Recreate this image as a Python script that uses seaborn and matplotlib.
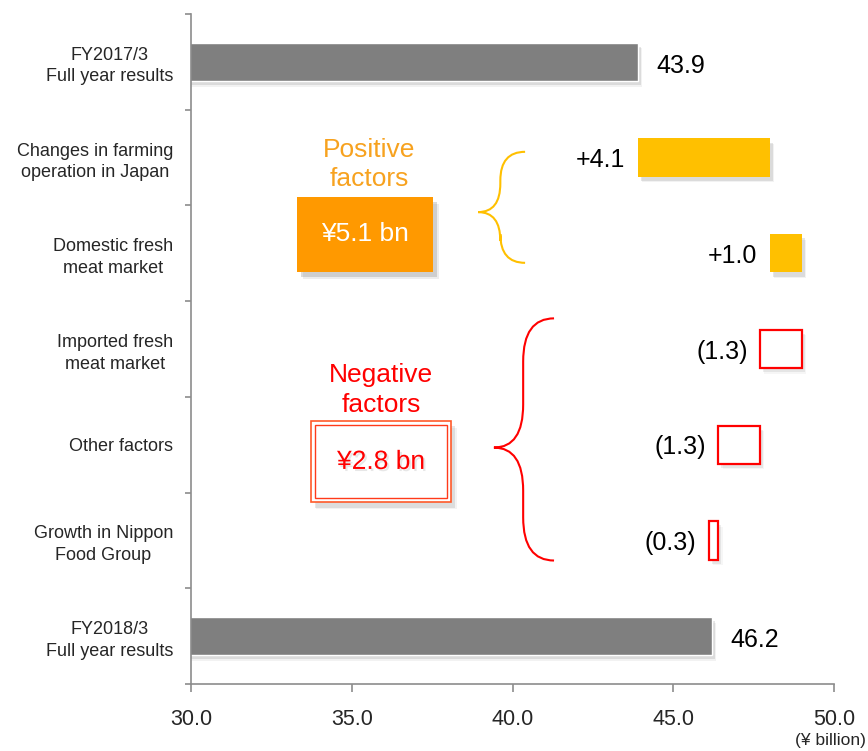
import matplotlib
matplotlib.use("Agg")
import matplotlib.pyplot as plt
import matplotlib.patheffects as pe
from matplotlib.patches import Rectangle, PathPatch
from matplotlib.path import Path
import numpy as np
import pandas as pd
import seaborn as sns

# ---- data -------------------------------------------------------------
categories = [
    "FY2017/3\nFull year results",
    "Changes in farming\noperation in Japan",
    "Domestic fresh\nmeat market",
    "Imported fresh\nmeat market",
    "Other factors",
    "Growth in Nippon\nFood Group",
    "FY2018/3\nFull year results",
]
start_total = 43.9
end_total = 46.2
deltas = [4.1, 1.0, -1.3, -1.3, -0.3]
x_ticks = [30.0, 35.0, 40.0, 45.0, 50.0]
positive_total = "¥5.1 bn"
negative_total = "¥2.8 bn"

# ---- style ------------------------------------------------------------
sns.set_style("white")
plt.rcParams["font.family"] = ["Liberation Sans", "DejaVu Sans"]

GREY = "#7F7F7F"
YELLOW = "#FFC000"
ORANGE = "#FF9900"
ORANGE_TXT = "#F7A21F"
RED = "#FF0000"
AXIS = "#8C8C8C"

fig = plt.figure(figsize=(8.68, 7.51), dpi=100)
ax = fig.add_axes([0.220, 0.0892, 0.741, 0.8922])


def soft_shadow(alpha=0.22, off=(2, -3)):
    return [pe.SimplePatchShadow(offset=off, shadow_rgbFace="#8a8a8a", alpha=alpha),
            pe.SimplePatchShadow(offset=(off[0] + 1, off[1] - 1), shadow_rgbFace="#8a8a8a",
                                 alpha=alpha * 0.5),
            pe.Normal()]


# totals (start and end) drawn as grey bars
df_tot = pd.DataFrame({"item": [categories[0], categories[-1]],
                       "value": [start_total, end_total]})
sns.barplot(data=df_tot, x="value", y="item", order=categories, color=GREY,
            saturation=1, width=0.4, ax=ax, orient="h")
for p in ax.patches:
    p.set_path_effects(soft_shadow())

# floating delta bars
level = start_total
for i, d in enumerate(deltas, start=1):
    if d >= 0:
        ax.barh(i, d, left=level, height=0.4, color=YELLOW, edgecolor="none",
                path_effects=soft_shadow(), zorder=3)
        lab = f"+{d:.1f}"
        lo = level
    else:
        ax.barh(i, d, left=level, height=0.4, facecolor="white", edgecolor=RED,
                linewidth=1.6, path_effects=soft_shadow(0.15), zorder=3)
        lab = f"({abs(d):.1f})"
        lo = level + d
    ax.annotate(lab, xy=(lo, i), xytext=(-9, -2), textcoords="offset points",
                ha="right", va="center", fontsize=18, color="black")
    level += d

for i, v in [(0, start_total), (len(categories) - 1, end_total)]:
    ax.annotate(f"{v:.1f}", xy=(v, i), xytext=(13, -3), textcoords="offset points",
                ha="left", va="center", fontsize=18, color="black")

# ---- axes -------------------------------------------------------------
ax.set_xlim(30, 50)
ax.set_ylim(len(categories) - 0.5, -0.5)
ax.set_xticks(x_ticks)
ax.set_xticklabels([f"{v:.1f}" for v in x_ticks], fontsize=15.5)
ax.set_yticks(range(len(categories)))
ax.set_yticklabels(categories, fontsize=13, linespacing=1.35,
                   multialignment="center")
ax.set_yticks(np.arange(-0.5, len(categories)), minor=True)
ax.tick_params(axis="y", which="major", left=True, length=0, pad=13)
ax.tick_params(axis="y", which="minor", left=True, length=4, color=AXIS, width=1.2,
               direction="out")
ax.tick_params(axis="x", which="major", bottom=True, length=6, color=AXIS, width=1.2,
               direction="out", pad=12)
ax.set_xlabel("")
ax.set_ylabel("")
for s in ["top", "right"]:
    ax.spines[s].set_visible(False)
for s in ["left", "bottom"]:
    ax.spines[s].set_color(AXIS)
    ax.spines[s].set_linewidth(1.2)


# ---- curly brace helper ----------------------------------------------
def brace(x_tip, x_spine, x_end, y_top, y_mid, y_bot, r, color):
    verts = [
        (x_end, y_top), (x_spine, y_top), (x_spine, y_top + r),
        (x_spine, y_mid - r),
        (x_spine, y_mid), (x_tip, y_mid),
        (x_spine, y_mid), (x_spine, y_mid + r),
        (x_spine, y_bot - r),
        (x_spine, y_bot), (x_end, y_bot),
    ]
    codes = [Path.MOVETO, Path.CURVE3, Path.CURVE3,
             Path.LINETO,
             Path.CURVE3, Path.CURVE3,
             Path.CURVE3, Path.CURVE3,
             Path.LINETO,
             Path.CURVE3, Path.CURVE3]
    ax.add_patch(PathPatch(Path(verts, codes), facecolor="none", edgecolor=color,
                           linewidth=1.5, zorder=4))


# positive factors
ax.text(35.54, 1.07, "Positive\nfactors", ha="center", va="center",
        fontsize=19, color=ORANGE_TXT, linespacing=1.28)
ax.add_patch(Rectangle((33.30, 1.41), 4.23, 0.785, facecolor=ORANGE,
                       edgecolor="none", zorder=4,
                       path_effects=soft_shadow(0.3, (3, -4))))
ax.text(35.42, 1.80, positive_total, ha="center", va="center", fontsize=19,
        color="white", zorder=5)
brace(38.93, 39.62, 40.39, 0.94, 1.57, 2.10, 0.30, YELLOW)

# negative factors
ax.text(35.91, 3.43, "Negative\nfactors", ha="center", va="center",
        fontsize=19, color=RED, linespacing=1.28)
ax.add_patch(Rectangle((33.73, 3.75), 4.36, 0.85, facecolor="white",
                       edgecolor="#FF5A2A", linewidth=1.2, zorder=4,
                       path_effects=soft_shadow(0.2, (3, -4))))
ax.add_patch(Rectangle((33.86, 3.795), 4.10, 0.76, facecolor="white",
                       edgecolor="#FF3A1A", linewidth=1.0, zorder=4))
ax.text(35.91, 4.18, negative_total, ha="center", va="center", fontsize=19,
        color=RED, zorder=5,
        path_effects=[pe.withSimplePatchShadow(offset=(1.5, -1.5),
                                               shadow_rgbFace="#bbbbbb", alpha=0.35)])
brace(39.42, 40.33, 41.29, 2.68, 4.03, 5.21, 0.45, RED)

fig.text(0.998, 0.004, "(¥ billion)", ha="right", va="bottom", fontsize=12.5)

fig.savefig("out.png", dpi=100)
